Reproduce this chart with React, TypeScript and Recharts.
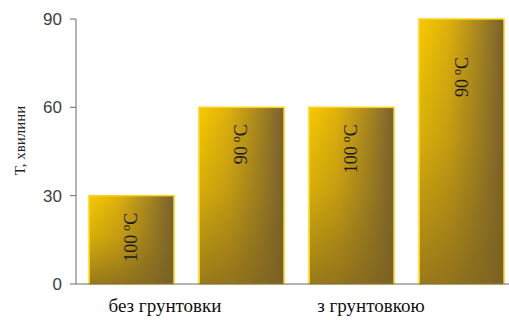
import { BarChart, Bar, XAxis, YAxis, LabelList } from 'recharts'

const categories = ['b1', 'b2', 'b3', 'b4']
const times = [30, 60, 60, 90]
const temps = ['100', '90', '100', '90']
const groupLabels = ['без грунтовки', '', 'з грунтовкою', '']
const yTicks = [0, 30, 60, 90]

const data = categories.map((c, i) => ({ name: c, time: times[i], temp: temps[i], group: groupLabels[i] }))

const serif = '"Liberation Serif", "DejaVu Serif", serif'

const GroupTick = (props: any) => {
  const { x, payload } = props
  const label = groupLabels[payload.index]
  if (!label) return null
  const dx = payload.index === 0 ? 34 : 20
  // baseline fixed just under the axis
  return (
    <text x={x + dx} y={312} textAnchor="middle" fontFamily={serif} fontSize={19} fill="#111">
      {label}
    </text>
  )
}

const GoldBar = (props: any) => {
  const { x, y, width, height } = props
  return (
    <g>
      <rect x={x} y={y} width={width} height={height} fill="url(#goldH)" stroke="#FFD21A" strokeWidth={1.5} />
      <rect x={x + 1} y={y + 1} width={width - 2} height={height - 1} fill="url(#goldV)" />
    </g>
  )
}

const TempLabel = (props: any) => {
  const { x, y, width, index } = props
  const cx = x + width / 2 + 6
  const ty = y + (index === 3 ? 38 : 17)
  return (
    <text
      x={cx}
      y={ty}
      transform={`rotate(-90 ${cx} ${ty})`}
      textAnchor="end"
      fontFamily={serif}
      fontSize={18}
      fill="#1a1a1a"
    >
      {temps[index]}
      <tspan dx={4} dy={-7} fontSize={12}>o</tspan>
      <tspan dy={7}>C</tspan>
    </text>
  )
}

export default function App() {
  return (
    <div style={{ position: 'fixed', top: 0, left: 0, width: 509, height: 320, overflow: 'hidden', background: '#fff' }}>
      <BarChart width={520} height={320} data={data} margin={{ top: 19, right: 4, bottom: 0, left: 0 }} barSize={85}>
        <defs>
          <linearGradient id="goldH" x1="0" y1="0" x2="1" y2="0">
            <stop offset="0%" stopColor="#F7CA00" />
            <stop offset="35%" stopColor="#DDB00C" />
            <stop offset="75%" stopColor="#A08120" />
            <stop offset="100%" stopColor="#786030" />
          </linearGradient>
          <linearGradient id="goldV" x1="0" y1="0" x2="0" y2="1">
            <stop offset="0%" stopColor="#6E5520" stopOpacity={0} />
            <stop offset="45%" stopColor="#7A6020" stopOpacity={0.25} />
            <stop offset="100%" stopColor="#7A6020" stopOpacity={0.75} />
          </linearGradient>
        </defs>
        <XAxis
          dataKey="name"
          height={36}
          tickLine={false}
          axisLine={{ stroke: '#6b6b6b' }}
          tick={<GroupTick />}
          interval={0}
        />
        <YAxis
          width={76}
          domain={[0, 90]}
          ticks={yTicks}
          tickSize={6}
          tickMargin={8}
          axisLine={{ stroke: '#6b6b6b' }}
          tickLine={{ stroke: '#6b6b6b' }}
          tick={{ fontFamily: 'Arial, "Liberation Sans", sans-serif', fontSize: 17, fill: '#404040' }}
          label={{
            value: 'T, хвилини',
            angle: -90,
            position: 'insideLeft',
            dx: 15,
            dy: -11,
            style: { fontFamily: serif, fontSize: 15, fill: '#222', textAnchor: 'middle' },
          }}
        />
        <Bar dataKey="time" shape={<GoldBar />} isAnimationActive={false}>
          <LabelList dataKey="temp" content={<TempLabel />} />
        </Bar>
      </BarChart>
    </div>
  )
}
